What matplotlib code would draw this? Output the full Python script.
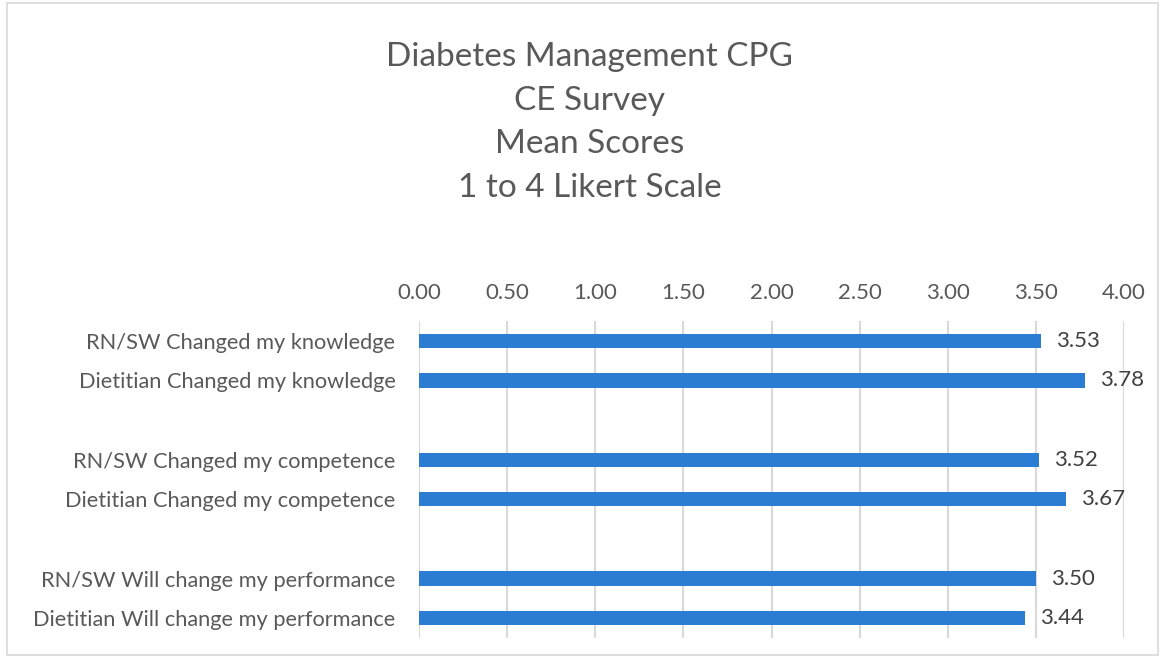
import matplotlib.pyplot as plt
from matplotlib.patches import Rectangle
import numpy as np

plt.rcParams['font.family'] = ['Lato', 'DejaVu Sans']

# Rows from top to bottom, blank rows are spacer categories
labels = [
    "RN/SW Changed my knowledge",
    "Dietitian Changed my knowledge",
    "",
    "RN/SW Changed my competence",
    "Dietitian Changed my competence",
    "",
    "RN/SW Will change my performance",
    "Dietitian Will change my performance",
]
scores = [3.53, 3.78, None, 3.52, 3.67, None, 3.50, 3.44]
x_ticks = [0.0, 0.5, 1.0, 1.5, 2.0, 2.5, 3.0, 3.5, 4.0]
title = "Diabetes Management CPG\nCE Survey\nMean Scores\n1 to 4 Likert Scale"

bar_color = "#2b7dd3"
grid_color = "#d9d9d9"
text_color = "#595959"

fig = plt.figure(figsize=(11.63, 6.62), dpi=100)
ax = fig.add_axes([0.3603, 0.0363, 0.6062, 0.4788])

ypos = np.arange(len(labels))
for y, v in zip(ypos, scores):
    if v is None:
        continue
    ax.barh(y, v, height=0.36, color=bar_color, zorder=3)
    ax.text(v + 0.085, y, f"{v:.2f}", va="center", ha="left",
            fontsize=16, color="#404040")

ax.set_xlim(0, 4)
ax.set_ylim(len(labels) - 0.5, -0.5)
ax.set_yticks(ypos)
ax.set_yticklabels(labels, fontsize=15.7, color=text_color)
ax.set_xticks(x_ticks)
ax.set_xticklabels([f"{t:.2f}" for t in x_ticks], fontsize=16, color=text_color)
ax.xaxis.tick_top()
ax.tick_params(axis="both", length=0)
ax.tick_params(axis="x", pad=13)
ax.tick_params(axis="y", pad=17)
ax.grid(axis="x", color=grid_color, linewidth=1.5, zorder=0)
for s in ax.spines.values():
    s.set_visible(False)

fig.text(0.507, 0.815, title, ha="center", va="center", fontsize=24,
         color=text_color, linespacing=1.57, multialignment="center")

fig.patches.append(Rectangle((0.006, 0.01), 0.99, 0.985, transform=fig.transFigure,
                             fill=False, edgecolor=grid_color, linewidth=1.2))

fig.savefig("out.png", dpi=100)
